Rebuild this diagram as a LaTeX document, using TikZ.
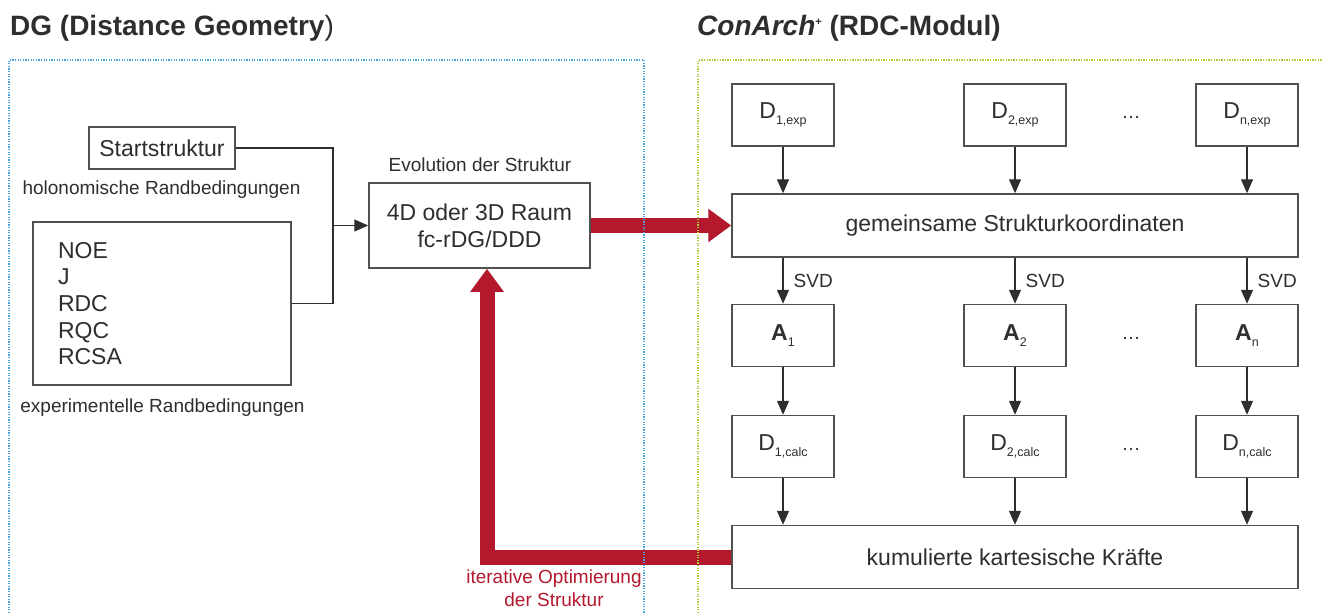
\documentclass[tikz,border=0pt]{standalone}
\usepackage{fontspec}
\setmainfont{Liberation Sans}
\definecolor{ink}{HTML}{2E2E2E}
\definecolor{rim}{HTML}{505050}
\definecolor{crimson}{HTML}{B3182C}
\definecolor{skyline}{HTML}{4AA3DF}
\definecolor{limeline}{HTML}{A8CE3C}
\usetikzlibrary{arrows.meta, positioning}
\newcommand{\subidx}[1]{\raisebox{-6.5pt}{\fontsize{12.5}{12.5}\selectfont #1}}
\newcommand{\supplus}{\raisebox{10pt}{\fontsize{11}{11}\selectfont +}}

\begin{document}
\begin{tikzpicture}[x=1pt, y=-1pt,
  box/.style={draw=rim, line width=1.5pt, fill=white, text=ink, inner sep=0pt, font=\fontsize{23}{26.7}\selectfont},
  cell/.style={box, minimum width=102pt, minimum height=62pt},
  wide/.style={box, minimum width=566pt, minimum height=63pt},
  note/.style={text=ink, inner sep=0pt, font=\fontsize{19}{23}\selectfont},
  wire/.style={draw=ink, line width=1.3pt},
  flow/.style={wire, -{Triangle[length=14pt, width=12pt]}},
  bigarrow/.style={draw=crimson, line width=15pt, -{Triangle[length=23pt, width=32pt]}},
  border/.style={line width=1.7pt, dash pattern=on 1.3pt off 1.3pt},
  heading/.style={anchor=base west, text=ink, inner sep=0pt, font=\fontsize{28}{34}\selectfont\bfseries}]
  \useasboundingbox (0,0) rectangle (1322,613);

  \node[heading] (dgtitle) at (10,35) {DG (Distance Geometry\textmd{)}};
  \node[heading] (catitle) at (697,35) {\textit{ConArch}\supplus\ (RDC-Modul)};

  % DG
  \node[box, minimum width=146pt, minimum height=42pt] (start) at (162,148) {Startstruktur};
  \node[note] (holo) at (161.5,190) {holonomische Randbedingungen};
  \node[box, minimum width=258pt, minimum height=163pt, text width=208pt, align=left, inner xsep=25pt] (rand) at (162,303.5) {NOE\\J\\RDC\\RQC\\RCSA};
  \node[note] (expt) at (162.5,408) {experimentelle Randbedingungen};
  \node[box, minimum width=221pt, minimum height=85pt, align=center] (evo) at (479.5,225.5) {4D oder 3D Raum\\fc-rDG/DDD};
  \node[note] (evotitle) at (480,165) {Evolution der Struktur};

  \coordinate (join) at (333,225.5);
  \draw[wire] (start.east) -| (join);
  \draw[wire] (rand.east) -| (join);
  \draw[flow] (join) -- (evo.west);

  % RDC-Modul
  \node[wide] (gem) at (1015,225.5) {gemeinsame Strukturkoordinaten};
  \node[wide] (kum) at (1015,557) {kumulierte kartesische Kräfte};

  \foreach \i/\x in {1/783, 2/1015, n/1247} {
    \node[cell] (dexp\i) at (\x,115) {D\subidx{\i,exp}};
    \node[cell] (a\i) at (\x,335.5) {\textbf{A}\subidx{\i}};
    \node[cell] (dcalc\i) at (\x,446.5) {D\subidx{\i,calc}};
    \draw[flow] (dexp\i) -- (gem.north -| dexp\i);
    \draw[flow] (gem.south -| a\i) -- (a\i) node[note, midway, right=10pt] {SVD};
    \draw[flow] (a\i) -- (dcalc\i);
    \draw[flow] (dcalc\i) -- (kum.north -| dcalc\i);
  }
  \node[note] (dots1) at (1131,117) {\textellipsis};
  \node[note] (dots2) at (1131,338) {\textellipsis};
  \node[note] (dots3) at (1131,449) {\textellipsis};

  \draw[bigarrow] (evo.east) -- (gem.west);
  \draw[bigarrow] (kum.west) -| ([xshift=7.5pt]evo.south);
  \node[note, text=crimson, align=center] (iter) at (554,588.5) {iterative Optimierung\\der Struktur};

  \draw[skyline, border] (9,613) |- (644,60) -- (644,613);
  \draw[limeline, border] (698,613) |- (1322,60);
\end{tikzpicture}
\end{document}
